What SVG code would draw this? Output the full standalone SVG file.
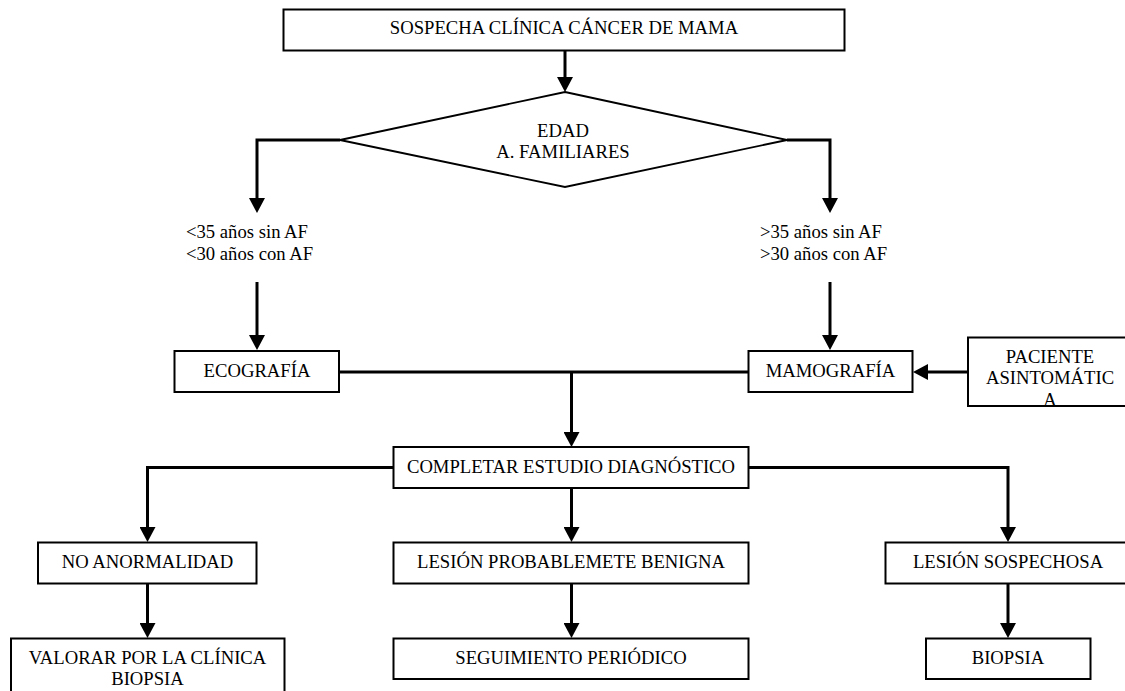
<svg xmlns="http://www.w3.org/2000/svg" width="1125" height="691" viewBox="0 0 1125 691">
<style>
.box{fill:#fff;stroke:#000;stroke-width:2}
.dia{fill:#fff;stroke:#000;stroke-width:1.8}
text{font-family:'Liberation Serif','Times New Roman',Tinos,'DejaVu Serif',serif;font-size:18.67px;fill:#000}
.c{text-anchor:middle}
.ln{fill:none;stroke:#000;stroke-width:3}
</style>
<defs>
<marker id="ah" markerUnits="userSpaceOnUse" markerWidth="16" markerHeight="16" refX="5" refY="8" orient="auto" viewBox="0 0 16 16">
<path d="M0,0 L15,8 L0,16 Z" fill="#000"/>
</marker>
<clipPath id="pclip"><rect x="968" y="337" width="170" height="68"/></clipPath>
</defs>
<rect width="1125" height="691" fill="#fff"/>
<g id="connectors">
<path class="ln" d="M565,51 V82" marker-end="url(#ah)"/>
<path class="ln" d="M340,140 H257 V203" marker-end="url(#ah)"/>
<path class="ln" d="M787,140 H830 V203" marker-end="url(#ah)"/>
<path class="ln" d="M257,282 V340" marker-end="url(#ah)"/>
<path class="ln" d="M830,282 V340" marker-end="url(#ah)"/>
<path class="ln" d="M339,372 H748"/>
<path class="ln" d="M968,372 H923" marker-end="url(#ah)"/>
<path class="ln" d="M571.5,372 V437" marker-end="url(#ah)"/>
<path class="ln" d="M393,467.5 H147.5 V532" marker-end="url(#ah)"/>
<path class="ln" d="M748,467.5 H1008 V532" marker-end="url(#ah)"/>
<path class="ln" d="M571.5,488 V532" marker-end="url(#ah)"/>
<path class="ln" d="M147.5,583 V628" marker-end="url(#ah)"/>
<path class="ln" d="M571.5,583 V628" marker-end="url(#ah)"/>
<path class="ln" d="M1008,583 V628" marker-end="url(#ah)"/>
</g>
<g id="n-sospecha">
<rect class="box" x="283.5" y="9.5" width="561" height="41"/>
<text class="c" x="564" y="34" font-family="Liberation Serif, serif">SOSPECHA CLÍNICA CÁNCER DE MAMA</text>
</g>
<g id="n-edad">
<polygon class="dia" points="565,92 787,140 565,187 340,140"/>
<text class="c" x="563" y="137">EDAD</text>
<text class="c" x="563" y="158">A. FAMILIARES</text>
</g>
<g id="l-menor">
<text x="186" y="238">&lt;35 años sin AF</text>
<text x="186" y="260">&lt;30 años con AF</text>
</g>
<g id="l-mayor">
<text x="760" y="238">&gt;35 años sin AF</text>
<text x="760" y="260">&gt;30 años con AF</text>
</g>
<g id="n-eco">
<rect class="box" x="174.5" y="351" width="164.5" height="41"/>
<text class="c" x="257" y="377">ECOGRAFÍA</text>
</g>
<g id="n-mamo">
<rect class="box" x="748.5" y="351" width="164" height="41"/>
<text class="c" x="830.5" y="377">MAMOGRAFÍA</text>
</g>
<g id="n-paciente">
<rect class="box" x="968" y="337.5" width="166" height="68.5"/>
<g clip-path="url(#pclip)">
<text class="c" x="1050" y="362.5">PACIENTE</text>
<text class="c" x="1050" y="384">ASINTOMÁTIC</text>
<text class="c" x="1050" y="406">A</text>
</g>
<line x1="968" y1="406" x2="1125" y2="406" stroke="#000" stroke-width="2"/>
</g>
<g id="n-completar">
<rect class="box" x="393.5" y="447" width="355" height="41"/>
<text class="c" x="571" y="472.5">COMPLETAR ESTUDIO DIAGNÓSTICO</text>
</g>
<g id="n-noanorm">
<rect class="box" x="38" y="542.5" width="218.5" height="41"/>
<text class="c" x="147.5" y="567.5">NO ANORMALIDAD</text>
</g>
<g id="n-benigna">
<rect class="box" x="393.5" y="542.5" width="355" height="41"/>
<text class="c" x="571" y="567.5">LESIÓN PROBABLEMETE BENIGNA</text>
</g>
<g id="n-sospechosa">
<rect class="box" x="885.5" y="542.5" width="246" height="41"/>
<text class="c" x="1008" y="567.5">LESIÓN SOSPECHOSA</text>
</g>
<g id="n-valorar">
<rect class="box" x="11" y="638.5" width="273.5" height="60"/>
<text class="c" x="147.5" y="663.5">VALORAR POR LA CLÍNICA</text>
<text class="c" x="147.5" y="684.5">BIOPSIA</text>
</g>
<g id="n-seguimiento">
<rect class="box" x="393.5" y="638.5" width="355" height="40.5"/>
<text class="c" x="571" y="663.5">SEGUIMIENTO PERIÓDICO</text>
</g>
<g id="n-biopsia">
<rect class="box" x="926" y="638.5" width="164.5" height="40.5"/>
<text class="c" x="1008" y="663.5">BIOPSIA</text>
</g>
</svg>
